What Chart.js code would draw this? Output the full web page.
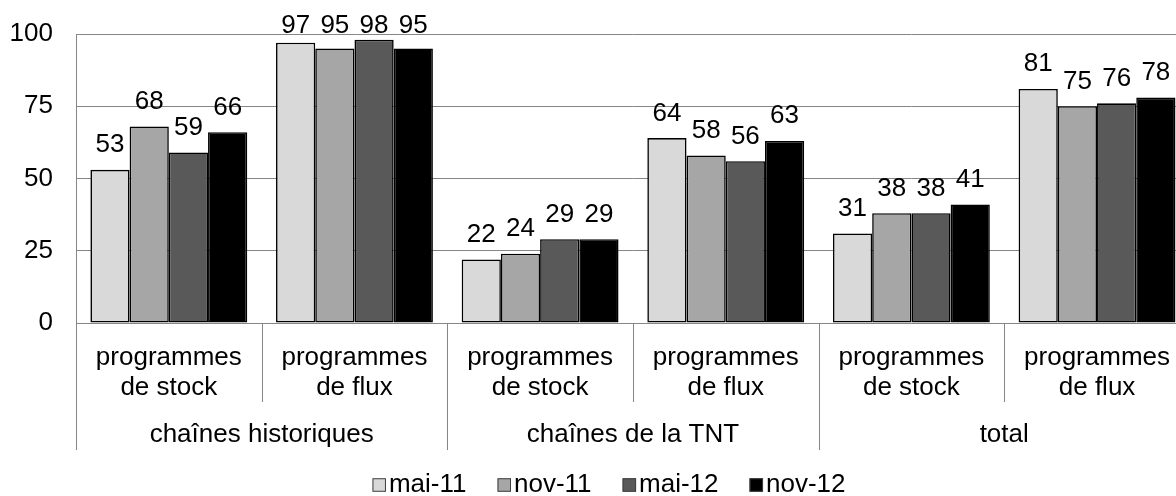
<!DOCTYPE html>
<html>
<head>
<meta charset="utf-8">
<script src="https://cdn.jsdelivr.net/npm/chart.js@4/dist/chart.umd.min.js"></script>
<style>
  html, body { margin: 0; padding: 0; background: #fff; overflow: hidden; }
  #wrap { width: 1190px; height: 496px; position: relative; }
</style>
</head>
<body>
<div id="wrap"><canvas id="grafico"></canvas></div>
<script>
const categories = [
    ['programmes', 'de stock'], ['programmes', 'de flux'],
    ['programmes', 'de stock'], ['programmes', 'de flux'],
    ['programmes', 'de stock'], ['programmes', 'de flux']
];
const groups = ['chaînes historiques', 'chaînes de la TNT', 'total'];
const seriesNames = ['mai-11', 'nov-11', 'mai-12', 'nov-12'];
const mai11 = [53, 97, 22, 64, 31, 81];
const nov11 = [68, 95, 24, 58, 38, 75];
const mai12 = [59, 98, 29, 56, 38, 76];
const nov12 = [66, 95, 29, 63, 41, 78];
const yTicks = [0, 25, 50, 75, 100];

const colors = ['#d9d9d9', '#a6a6a6', '#595959', '#000000'];
const FONT = "'Liberation Sans', Arial, sans-serif";
const FS = 26;
const lineCol = '#868686';

// etiquettes de valeur au-dessus des barres
const valueLabels = {
    id: 'valueLabels',
    afterDatasetsDraw(chart) {
        const ctx = chart.ctx;
        ctx.save();
        ctx.font = FS + 'px ' + FONT;
        ctx.fillStyle = '#000';
        ctx.textAlign = 'center';
        ctx.textBaseline = 'alphabetic';
        chart.data.datasets.forEach((ds, i) => {
            chart.getDatasetMeta(i).data.forEach((bar, j) => {
                const y = Math.max(bar.y - 17.5, 33);
                ctx.fillText(String(ds.data[j]), bar.x, y);
            });
        });
        ctx.restore();
    }
};

// second niveau de l'axe X + séparateurs + légende
const groupAxis = {
    id: 'groupAxis',
    afterDraw(chart) {
        const ctx = chart.ctx;
        const x = chart.scales.x;
        const area = chart.chartArea;
        const n = categories.length;
        const bound = k => {
            if (k === 0) return area.left;
            if (k === n) return area.right;
            return (x.getPixelForTick(k - 1) + x.getPixelForTick(k)) / 2;
        };
        ctx.save();
        ctx.strokeStyle = lineCol;
        ctx.lineWidth = 1;
        // ligne verticale gauche
        ctx.beginPath();
        ctx.moveTo(Math.round(area.left) + 0.5, area.bottom);
        ctx.lineTo(Math.round(area.left) + 0.5, 450);
        ctx.stroke();
        for (let k = 1; k < n; k++) {
            const px = Math.round(bound(k)) + 0.5;
            const outer = k % 2 === 0;
            ctx.beginPath();
            ctx.moveTo(px, area.bottom);
            ctx.lineTo(px, outer ? 450 : 402);
            ctx.stroke();
        }
        ctx.font = FS + 'px ' + FONT;
        ctx.fillStyle = '#000';
        ctx.textAlign = 'center';
        ctx.textBaseline = 'middle';
        groups.forEach((g, i) => {
            const cx = (bound(i * 2) + bound(i * 2 + 2)) / 2;
            ctx.fillText(g, cx, 435);
        });

        // légende
        const box = 13.5, gap = 3, spacing = 31;
        const widths = seriesNames.map(s => ctx.measureText(s).width);
        let total = 0;
        widths.forEach(w => { total += box + gap + w; });
        total += spacing * (seriesNames.length - 1);
        let lx = 609 - total / 2;
        const ly = 485;
        ctx.textAlign = 'left';
        seriesNames.forEach((s, i) => {
            ctx.fillStyle = colors[i];
            ctx.fillRect(lx, ly - box / 2, box, box);
            ctx.strokeStyle = '#404040';
            ctx.lineWidth = 1;
            ctx.strokeRect(lx + 0.5, ly - box / 2 + 0.5, box - 1, box - 1);
            ctx.fillStyle = '#000';
            ctx.fillText(s, lx + box + gap, ly);
            lx += box + gap + widths[i] + spacing;
        });
        ctx.restore();
    }
};

const datasets = [mai11, nov11, mai12, nov12].map((d, i) => ({
    label: seriesNames[i],
    data: d,
    backgroundColor: colors[i],
    borderColor: '#000',
    borderWidth: 1.6,
    borderSkipped: false,
    categoryPercentage: 0.845,
    barPercentage: 1.0
}));

new Chart(document.getElementById('grafico'), {
    type: 'bar',
    data: { labels: categories, datasets: datasets },
    options: {
        responsive: true,
        maintainAspectRatio: false,
        animation: false,
        layout: { padding: { top: 34, bottom: 0, left: 0, right: 0 } },
        scales: {
            x: {
                grid: { display: false, drawTicks: false },
                border: { display: true, color: lineCol, width: 1 },
                ticks: {
                    color: '#000',
                    padding: 20,
                    maxRotation: 0,
                    autoSkip: false,
                    font: { size: FS, family: FONT, lineHeight: 1.15 }
                },
                afterFit(scale) { scale.height = 173; }
            },
            y: {
                min: 0,
                max: 100,
                afterBuildTicks(scale) { scale.ticks = yTicks.map(v => ({ value: v })); },
                grid: { color: lineCol, lineWidth: 1, drawTicks: false },
                border: { display: true, color: lineCol, width: 1 },
                ticks: {
                    color: '#000',
                    padding: 23,
                    font: { size: FS, family: FONT }
                },
                afterFit(scale) {
                    scale.width = 76;
                    scale.paddingTop = 0;
                    scale.paddingBottom = 0;
                }
            }
        },
        plugins: {
            legend: { display: false },
            tooltip: { enabled: false }
        }
    },
    plugins: [valueLabels, groupAxis]
});
</script>
</body>
</html>
